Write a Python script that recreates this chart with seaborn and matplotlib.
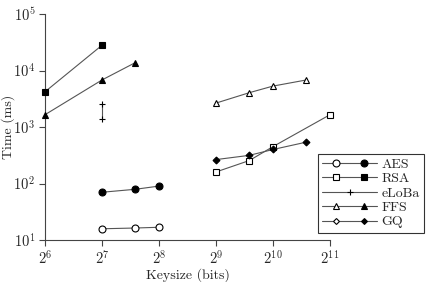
import numpy as np
import pandas as pd
import seaborn as sns
import matplotlib.pyplot as plt
from matplotlib.lines import Line2D
from matplotlib.legend_handler import HandlerTuple

# valores (tempo em ms por tamanho de chave em bits)
aes_x = [128, 192, 256]
aes_open = [15.8, 16.3, 16.8]
aes_closed = [70, 79, 90]

rsa_closed_x = [64, 128]
rsa_closed = [4200, 28000]
rsa_open_x = [512, 768, 1024, 2048]
rsa_open = [160, 255, 450, 1650]

eloba_x = [128, 128]
eloba = [2600, 1400]

ffs_closed_x = [64, 128, 192]
ffs_closed = [1650, 6800, 13800]
ffs_open_x = [512, 768, 1024, 1536]
ffs_open = [2650, 4050, 5300, 6800]

gq_x = [512, 768, 1024, 1536]
gq_closed = [265, 315, 400, 540]

labels = ["AES", "RSA", "eLoBa", "FFS", "GQ"]

sns.set_style("ticks")
plt.rcParams["font.family"] = ["cmr10", "DejaVu Serif"]
plt.rcParams["mathtext.fontset"] = "cm"
plt.rcParams["axes.formatter.use_mathtext"] = True
plt.rcParams["font.size"] = 10

fig = plt.figure(figsize=(4.26, 2.82), dpi=100)
ax = fig.add_axes([45 / 426, 1 - 240 / 282, 285 / 426, 226 / 282])

linec = "#555555"
ms = 5

def serie(x, y, marker, filled, size=ms):
    df = pd.DataFrame({"x": x, "y": y})
    sns.lineplot(data=df, x="x", y="y", ax=ax, estimator=None, sort=False,
                 color=linec, lw=0.8, marker=marker, markersize=size,
                 markeredgecolor="black", markeredgewidth=0.8,
                 markerfacecolor="black" if filled else "white",
                 clip_on=False, zorder=3)

serie(aes_x, aes_open, "o", False)
serie(aes_x, aes_closed, "o", True)
serie(rsa_closed_x, rsa_closed, "s", True)
serie(rsa_open_x, rsa_open, "s", False)
serie(eloba_x, eloba, "+", True, 4.5)
serie(ffs_closed_x, ffs_closed, "^", True, 4.5)
serie(ffs_open_x, ffs_open, "^", False, 4.5)
serie(gq_x, gq_closed, "D", True, 3.5)

ax.set_xscale("log", base=2)
ax.set_yscale("log", base=10)
ax.set_xlim(2**6, 2**11)
ax.set_ylim(10, 1e5)
ax.set_xticks([2**i for i in range(6, 12)])
ax.set_yticks([10**i for i in range(1, 6)])
ax.minorticks_off()
ax.tick_params(length=4, width=0.8, color="#444444", labelsize=10.5, pad=3)
for s in ["left", "bottom"]:
    ax.spines[s].set_color("#444444")
    ax.spines[s].set_linewidth(0.8)
sns.despine(ax=ax)

ax.set_xlabel("Keysize (bits)", fontsize=10, labelpad=0)
ax.set_ylabel("Time (ms)", fontsize=10)
ax.yaxis.set_label_coords((15 - 45) / 285, 0.5)

# legenda com marcador vazio + cheio
def h(marker, filled, size=ms):
    return Line2D([], [], color=linec, lw=0.8, marker=marker, markersize=size,
                  markeredgecolor="black", markeredgewidth=0.8,
                  markerfacecolor="black" if filled else "white")

handles = [
    (h("o", False, 5), h("o", True, 5)),
    (h("s", False, 5), h("s", True, 5)),
    h("+", True, 4.5),
    (h("^", False, 4), h("^", True, 4)),
    (h("D", False, 3), h("D", True, 3)),
]
leg = fig.legend(handles, labels, loc="upper right",
                 bbox_to_anchor=(424 / 426, 1 - 154 / 282),
                 handler_map={tuple: HandlerTuple(ndivide=None, pad=0)},
                 fancybox=False, frameon=True, edgecolor="black",
                 fontsize=10, handlelength=4.0, handletextpad=0.3,
                 labelspacing=0.12, borderpad=0.3, borderaxespad=0)
leg.get_frame().set_linewidth(0.8)

fig.savefig("out.png", dpi=100)
